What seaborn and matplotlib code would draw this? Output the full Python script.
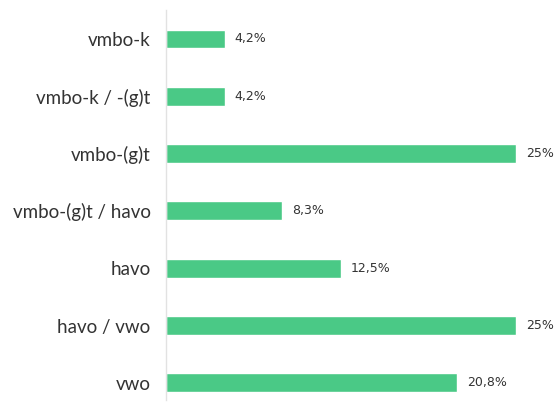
import pandas as pd
import matplotlib
matplotlib.use("Agg")
import matplotlib.pyplot as plt
import seaborn as sns

# Data
categories = ["vmbo-k", "vmbo-k / -(g)t", "vmbo-(g)t", "vmbo-(g)t / havo",
              "havo", "havo / vwo", "vwo"]
values = [4.2, 4.2, 25, 8.3, 12.5, 25, 20.8]
value_labels = ["4,2%", "4,2%", "25%", "8,3%", "12,5%", "25%", "20,8%"]

df = pd.DataFrame({"Niveau": categories, "Percentage": values})

sns.set_style("white")
plt.rcParams["font.family"] = ["Lato", "DejaVu Sans"]

fig = plt.figure(figsize=(5.55, 4.03), dpi=100)
ax = fig.add_axes([166 / 555, 3 / 403, 389 / 555, 390 / 403])

sns.barplot(data=df, x="Percentage", y="Niveau", orient="h",
            color="#4ac986", saturation=1, width=0.33, ax=ax)

ax.set_xlim(0, 389 / 14)
ax.set_ylim(6.3, -0.506)

for i, lab in enumerate(value_labels):
    ax.text(values[i] + 0.7, i, lab, va="center", ha="left",
            fontsize=9, color="#333333", family="DejaVu Sans")

for s in ["top", "right", "bottom"]:
    ax.spines[s].set_visible(False)
ax.spines["left"].set_color("#e2e2e2")
ax.spines["left"].set_linewidth(1)

ax.set_xticks([])
ax.set_xlabel("")
ax.set_ylabel("")
ax.tick_params(axis="y", length=0, pad=11, labelsize=13.5, labelcolor="#333333")

fig.savefig("out.png", dpi=100)
